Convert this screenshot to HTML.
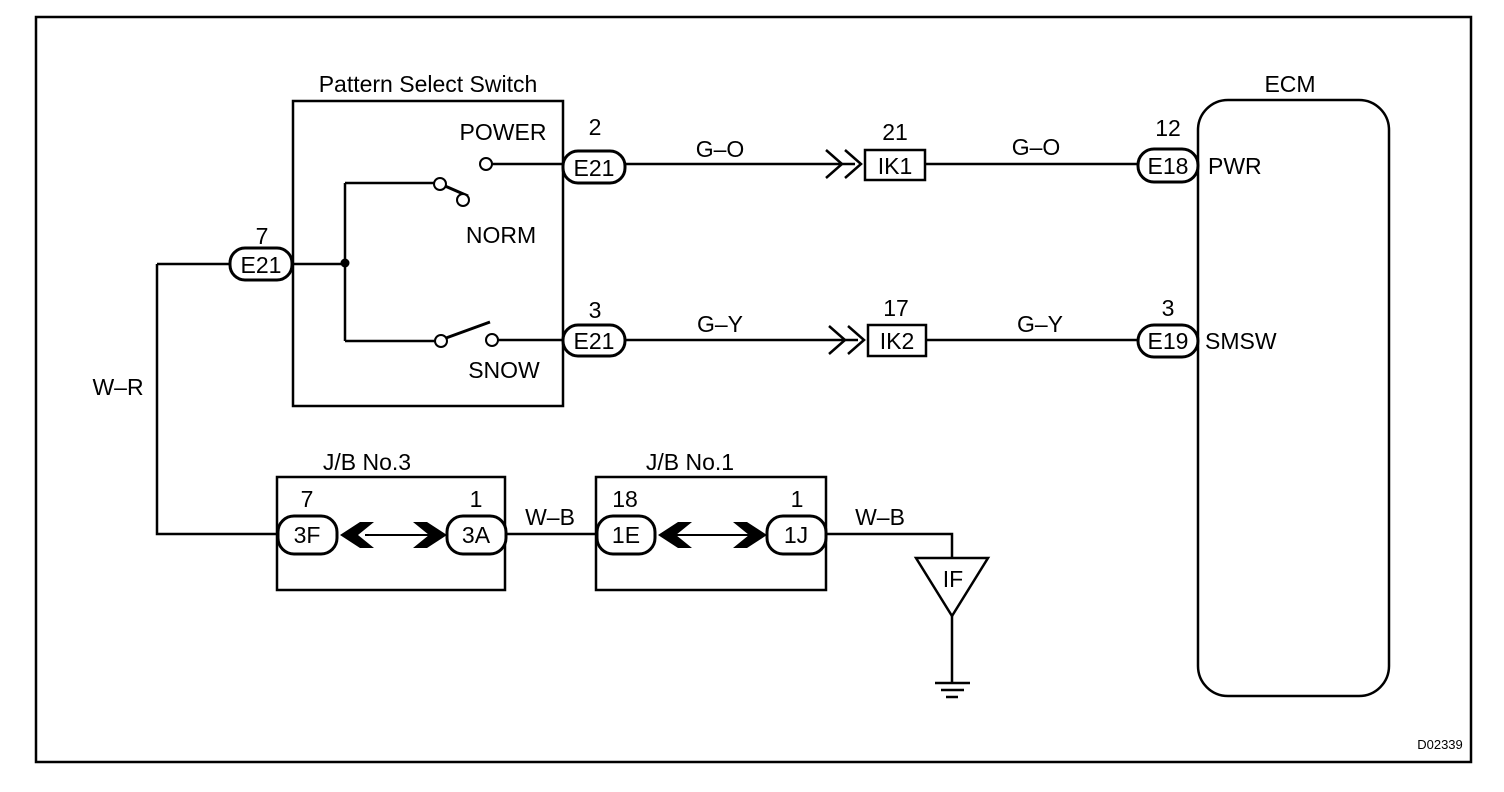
<!DOCTYPE html>
<html><head><style>body{margin:0;background:#fff}svg{display:block}text{font-family:"Liberation Sans",sans-serif;fill:#000}</style></head><body>
<svg width="1504" height="792" viewBox="0 0 1504 792" xmlns="http://www.w3.org/2000/svg">
<rect x="36" y="17" width="1435" height="745" fill="none" stroke="#000" stroke-width="2.5"/>
<g fill="none" stroke="#000" stroke-width="2.5">
<rect x="293" y="101" width="270" height="305"/>
<rect x="1198" y="100" width="191" height="596" rx="30"/>
<rect x="277" y="477" width="228" height="113"/>
<rect x="596" y="477" width="230" height="113"/>
<path d="M492 164H563M625 164H855M925 164H1138"/>
<path d="M498 340H563M625 340H858M926 340H1138"/>
<path d="M157 264H230M292 264H345M345 183V341M345 183H434M345 341H435"/>
<path d="M157 264V534H277"/>
<path d="M506 534H596M826 534H952V558M952 616V683"/>
<path d="M935 683H970M941 690H964M946 697H958"/>
<path d="M916 558H988L952 616Z"/>
<path d="M445 186L468 196M446 338L490 322" stroke-width="3"/>
<path d="M826 150L842 164L826 178M845 150L861 164L845 178"/>
<path d="M829 326L845 340L829 354M848 326L864 340L848 354"/>
<path d="M365 535H430M675 535H750" stroke-width="2"/>
</g>
<g fill="#fff" stroke="#000" stroke-width="2">
<circle cx="486" cy="164" r="6"/><circle cx="440" cy="184" r="6"/><circle cx="463" cy="200" r="6"/>
<circle cx="441" cy="341" r="6"/><circle cx="492" cy="340" r="6"/>
</g>
<circle cx="345" cy="263" r="4.5"/>
<g fill="#fff" stroke="#000" stroke-width="3">
<rect x="563" y="151" width="62" height="32" rx="15"/>
<rect x="563" y="325" width="62" height="31" rx="15"/>
<rect x="230" y="248" width="62" height="32" rx="15"/>
<rect x="1138" y="149" width="60" height="33" rx="16"/>
<rect x="1138" y="325" width="60" height="32" rx="16"/>
<rect x="278" y="516" width="59" height="38" rx="16"/>
<rect x="447" y="516" width="59" height="38" rx="16"/>
<rect x="597" y="516" width="58" height="38" rx="16"/>
<rect x="767" y="516" width="59" height="38" rx="16"/>
<rect x="865" y="150" width="60" height="30" stroke-width="2.5"/>
<rect x="868" y="325" width="58" height="31" stroke-width="2.5"/>
</g>
<g fill="#000">
<path d="M340 535L360 522H374L358 535L374 548H360Z"/>
<path d="M447 535L427 522H413L429 535L413 548H427Z"/>
<path d="M658 535L678 522H692L676 535L692 548H678Z"/>
<path d="M767 535L747 522H733L749 535L733 548H747Z"/>
</g>
<g font-size="23" text-anchor="middle">
<text x="428" y="92">Pattern Select Switch</text>
<text x="503" y="140">POWER</text>
<text x="501" y="243">NORM</text>
<text x="504" y="378">SNOW</text>
<text x="595" y="135">2</text>
<text x="594" y="176">E21</text>
<text x="595" y="318">3</text>
<text x="594" y="349">E21</text>
<text x="262" y="244">7</text>
<text x="261" y="273">E21</text>
<text x="720" y="157">G–O</text>
<text x="1036" y="155">G–O</text>
<text x="720" y="332">G–Y</text>
<text x="1040" y="332">G–Y</text>
<text x="895" y="140">21</text>
<text x="895" y="174">IK1</text>
<text x="896" y="316">17</text>
<text x="897" y="349">IK2</text>
<text x="1168" y="136">12</text>
<text x="1168" y="174">E18</text>
<text x="1168" y="316">3</text>
<text x="1168" y="349">E19</text>
<text x="1290" y="92">ECM</text>
<text x="118" y="395">W–R</text>
<text x="367" y="470">J/B No.3</text>
<text x="690" y="470">J/B No.1</text>
<text x="307" y="507">7</text>
<text x="307" y="543">3F</text>
<text x="476" y="507">1</text>
<text x="476" y="543">3A</text>
<text x="625" y="507">18</text>
<text x="626" y="543">1E</text>
<text x="797" y="507">1</text>
<text x="796" y="543">1J</text>
<text x="550" y="525">W–B</text>
<text x="880" y="525">W–B</text>
<text x="953" y="587">IF</text>
</g>
<g font-size="23"><text x="1208" y="174">PWR</text><text x="1205" y="349">SMSW</text></g>
<text x="1440" y="749" font-size="13" text-anchor="middle">D02339</text>
</svg>
</body></html>
